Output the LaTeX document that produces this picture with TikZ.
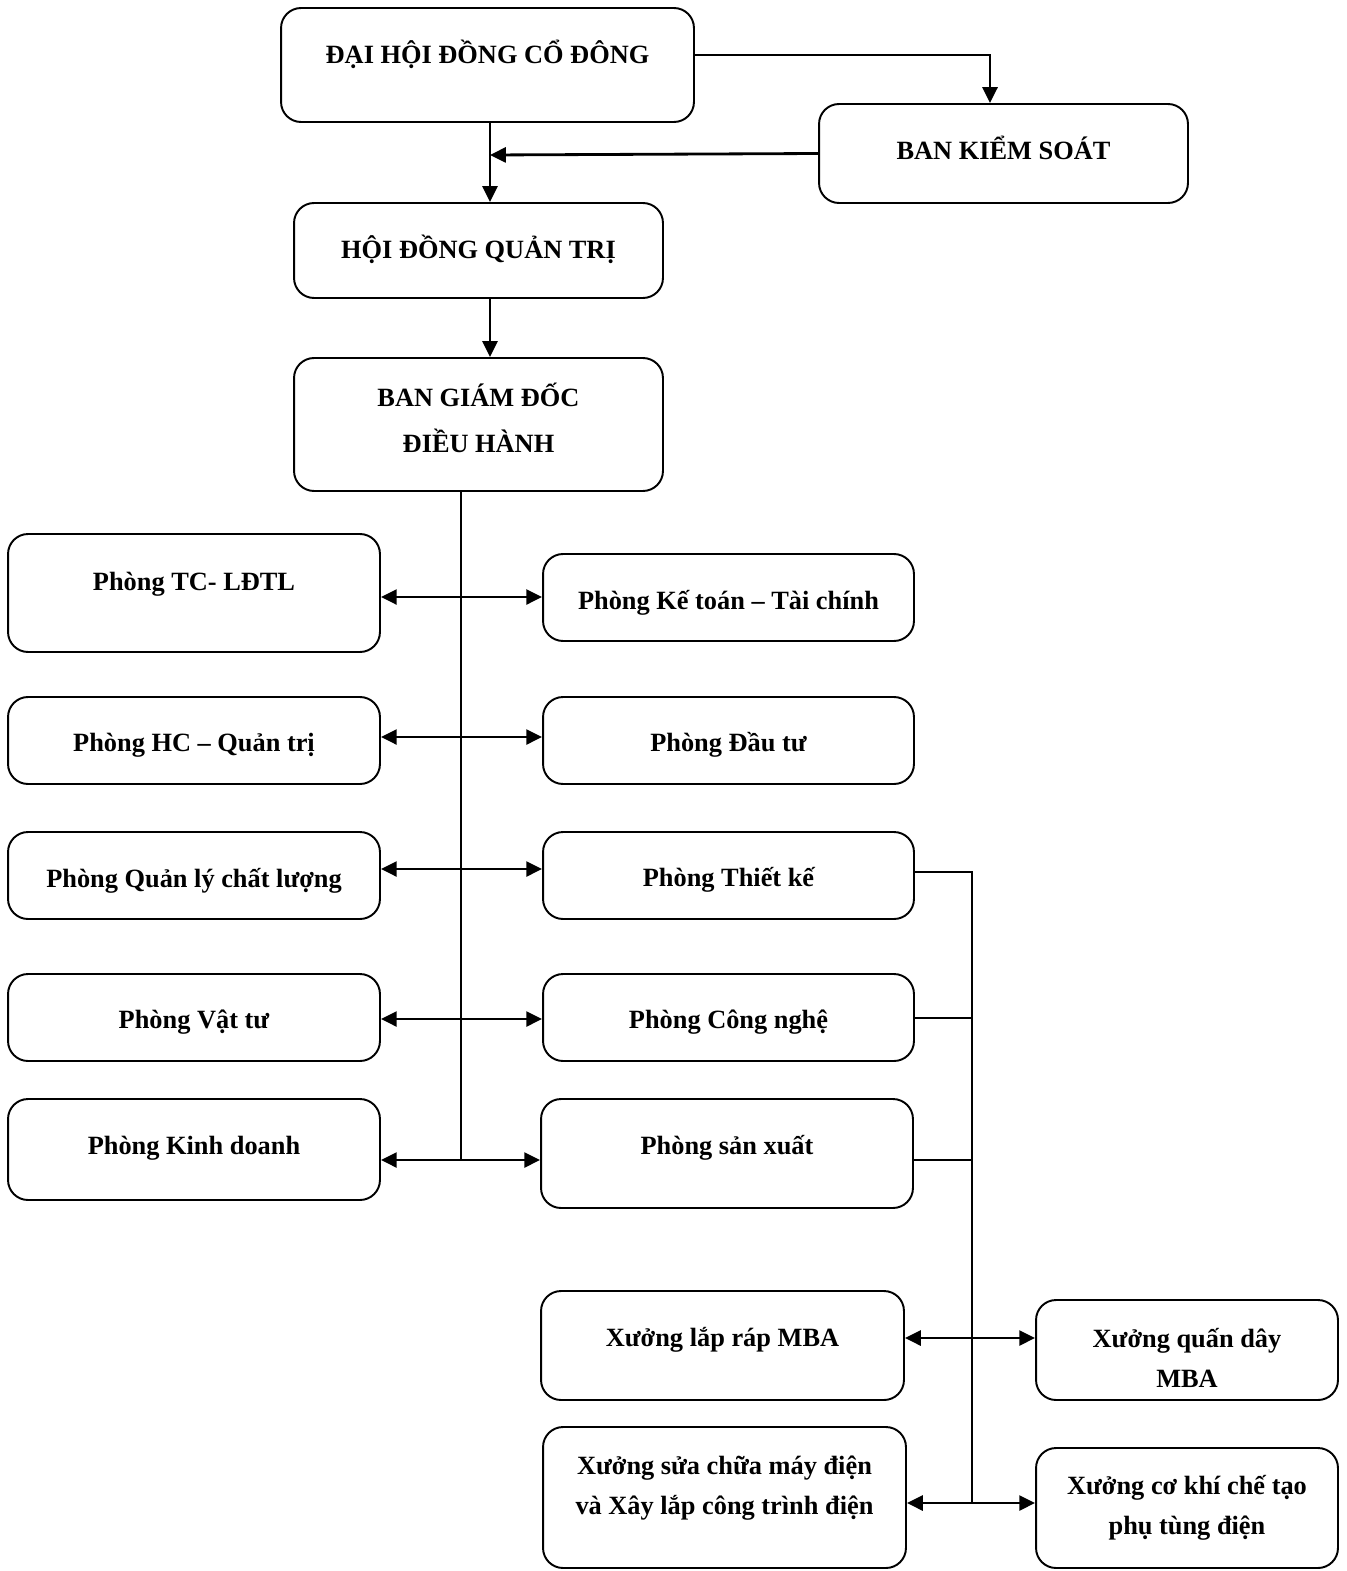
\documentclass[tikz,border=0pt]{standalone}
\usepackage{fontspec}
\setmainfont{Liberation Serif}
\usetikzlibrary{arrows.meta}

\begin{document}
\begin{tikzpicture}[x=0.02cm,y=-0.02cm,
  box/.style={draw,line width=1.1pt,rounded corners=0.4cm,inner sep=0pt},
  lbl/.style={font=\fontsize{15}{22.7}\selectfont\bfseries,align=center,inner sep=0pt},
  one/.style={lbl,text height=10pt,text depth=0pt},
  arr/.style={-{Triangle[length=9pt,width=8.5pt]},line width=1.6pt},
  dbl/.style={{Triangle[length=9pt,width=8.5pt]}-{Triangle[length=9pt,width=8.5pt]},line width=1.6pt},
  bus/.style={line width=1.1pt},
]
\useasboundingbox (0,0) rectangle (1346,1571);

% Top levels
\node[box,minimum width=8.26cm,minimum height=2.28cm] (dhcd) at (487.5,65) {};
\node[one] (dhcd-t) at (487.5,55) {ĐẠI HỘI ĐỒNG CỔ ĐÔNG};

\node[box,minimum width=7.38cm,minimum height=1.98cm] (bks) at (1003.5,153.5) {};
\node[one] (bks-t) at (1003.5,151) {BAN KIỂM SOÁT};

\node[box,minimum width=7.38cm,minimum height=1.9cm] (hdqt) at (478.5,250.5) {};
\node[one] (hdqt-t) at (478.5,250) {HỘI ĐỒNG QUẢN TRỊ};

\node[box,minimum width=7.38cm,minimum height=2.66cm] (bgd) at (478.5,424.5) {};
\node[lbl,font=\fontsize{15}{26}\selectfont\bfseries] (bgd-t) at (478.5,418) {BAN GIÁM ĐỐC\\ĐIỀU HÀNH};

% Left column
\node[box,minimum width=7.44cm,minimum height=2.36cm] (tc) at (194,593) {};
\node[one] (tc-t) at (194,582) {Phòng TC- LĐTL};

\node[box,minimum width=7.44cm,minimum height=1.74cm] (hc) at (194,740.5) {};
\node[one] (hc-t) at (194,743) {Phòng HC – Quản trị};

\node[box,minimum width=7.44cm,minimum height=1.74cm] (ql) at (194,875.5) {};
\node[one] (ql-t) at (194,879) {Phòng Quản lý chất lượng};

\node[box,minimum width=7.44cm,minimum height=1.74cm] (vt) at (194,1017.5) {};
\node[one] (vt-t) at (194,1020) {Phòng Vật tư};

\node[box,minimum width=7.44cm,minimum height=2.02cm] (kd) at (194,1149.5) {};
\node[one] (kd-t) at (194,1146) {Phòng Kinh doanh};

% Right column
\node[box,minimum width=7.42cm,minimum height=1.74cm] (kt) at (728.5,597.5) {};
\node[one] (kt-t) at (728.5,601) {Phòng Kế toán – Tài chính};

\node[box,minimum width=7.42cm,minimum height=1.74cm] (dt) at (728.5,740.5) {};
\node[one] (dt-t) at (728.5,743) {Phòng Đầu tư};

\node[box,minimum width=7.42cm,minimum height=1.74cm] (tk) at (728.5,875.5) {};
\node[one] (tk-t) at (728.5,878) {Phòng Thiết kế};

\node[box,minimum width=7.42cm,minimum height=1.74cm] (cn) at (728.5,1017.5) {};
\node[one] (cn-t) at (728.5,1020) {Phòng Công nghệ};

\node[box,minimum width=7.44cm,minimum height=2.18cm] (sx) at (727,1153.5) {};
\node[one] (sx-t) at (727,1146) {Phòng sản xuất};

% Workshops
\node[box,minimum width=7.26cm,minimum height=2.18cm] (xlr) at (722.5,1345.5) {};
\node[one] (xlr-t) at (722.5,1338) {Xưởng lắp ráp MBA};

\node[box,minimum width=6.04cm,minimum height=2.0cm] (xqd) at (1187,1350) {};
\node[lbl] (xqd-t) at (1187,1358) {Xưởng quấn dây\\MBA};

\node[box,minimum width=7.26cm,minimum height=2.82cm] (xsc) at (724.5,1497.5) {};
\node[lbl] (xsc-t) at (724.5,1488) {Xưởng sửa chữa máy điện\\và Xây lắp công trình điện};

\node[box,minimum width=6.04cm,minimum height=2.4cm] (xck) at (1187,1508) {};
\node[lbl] (xck-t) at (1187,1508) {Xưởng cơ khí chế tạo\\phụ tùng điện};

% Junction points
\coordinate (v1) at (490,155);
\coordinate (r1) at (461,597);
\coordinate (r2) at (461,737);
\coordinate (r3) at (461,869);
\coordinate (r4) at (461,1019);
\coordinate (r5) at (461,1160);
\coordinate (s1) at (972,872);
\coordinate (s2) at (972,1018);
\coordinate (s3) at (972,1160);
\coordinate (s4) at (972,1338);
\coordinate (s5) at (972,1503);

% Top arrows
\draw[arr] ([yshift=0.2cm]dhcd.east) -| ([xshift=-0.27cm]bks.north);
\draw[arr] (dhcd.south -| v1) -- (hdqt.north -| v1);
\draw[arr] (bks.west) -- (v1);
\draw[arr] (hdqt.south -| v1) -- (bgd.north -| v1);

% Main bus
\draw[bus] (bgd.south -| r1) -- (r5);
\draw[dbl] (tc.east |- r1) -- (kt.west |- r1);
\draw[dbl] (hc.east |- r2) -- (dt.west |- r2);
\draw[dbl] (ql.east |- r3) -- (tk.west |- r3);
\draw[dbl] (vt.east |- r4) -- (cn.west |- r4);
\draw[dbl] (kd.east |- r5) -- (sx.west |- r5);

% Production bus
\draw[bus] (tk.east |- s1) -- (s1) -- (s5);
\draw[bus] (cn.east |- s2) -- (s2);
\draw[bus] (sx.east |- s3) -- (s3);
\draw[dbl] (xlr.east |- s4) -- (xqd.west |- s4);
\draw[dbl] (xsc.east |- s5) -- (xck.west |- s5);

\end{tikzpicture}
\end{document}
